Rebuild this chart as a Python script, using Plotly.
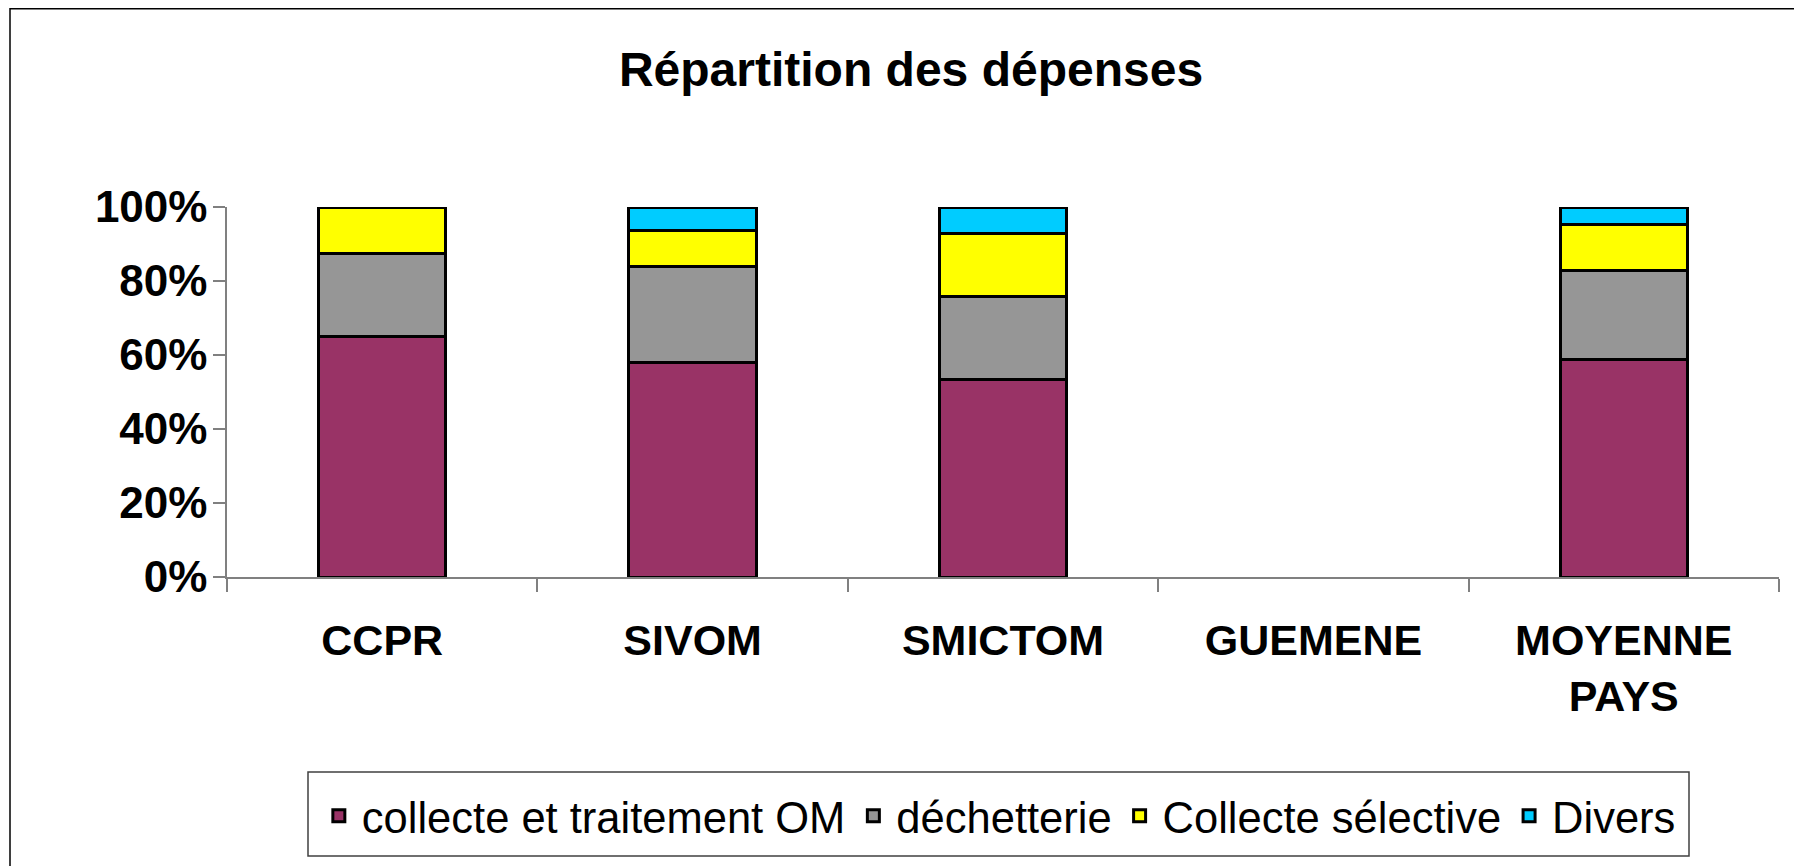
import plotly.graph_objects as go

categories = ["CCPR", "SIVOM", "SMICTOM", "GUEMENE", "MOYENNE<br>PAYS"]

collecte_om = [65.0, 57.9, 53.4, None, 58.8]
dechetterie = [22.4, 25.9, 22.4, None, 24.1]
collecte_selective = [12.6, 9.9, 17.0, None, 12.4]
divers = [None, 6.3, 7.2, None, 4.7]

series = [
    ("collecte et traitement OM", collecte_om, "#993366"),
    ("déchetterie", dechetterie, "#969696"),
    ("Collecte sélective", collecte_selective, "#FFFF00"),
    ("Divers", divers, "#00CCFF"),
]

font_family = "Liberation Sans, Arial, sans-serif"

# page body has an 8px margin, so positions are offset accordingly
fig = go.Figure()
for name, values, color in series:
    fig.add_trace(go.Bar(
        x=categories,
        y=values,
        name=name,
        marker=dict(color=color, line=dict(color="black", width=3)),
    ))

fig.update_layout(
    width=1802,
    height=866,
    barmode="stack",
    bargap=0.59,
    plot_bgcolor="white",
    paper_bgcolor="white",
    margin=dict(l=219, r=31, t=199, b=297),
    font=dict(family=font_family, color="black"),
    title=dict(
        text="<b>Répartition des dépenses</b>",
        font=dict(size=48, family=font_family, color="black"),
        x=903 / 1802, xref="container", xanchor="center",
        y=1 - 61 / 866, yref="container", yanchor="middle",
    ),
    legend=dict(
        orientation="h",
        x=0.497, xanchor="center",
        y=-0.646, yanchor="middle",
        font=dict(size=43.5, family=font_family, color="black"),
        borderwidth=0,
        bgcolor="rgba(0,0,0,0)",
        itemwidth=36,
        traceorder="normal",
    ),
    showlegend=True,
)

fig.update_xaxes(
    type="category",
    showline=True, linecolor="#808080", linewidth=1.5,
    ticks="outside", tickson="boundaries", ticklen=13, tickcolor="#808080", tickwidth=1.5,
    tickfont=dict(size=43, family=font_family, color="black"),
    tickprefix="<b>", ticksuffix="</b>",
    ticklabelstandoff=25,
    showgrid=False, zeroline=False,
)

fig.update_yaxes(
    range=[0, 100],
    tickvals=[0, 20, 40, 60, 80, 100],
    ticktext=["<b>%d%%</b>" % v for v in [0, 20, 40, 60, 80, 100]],
    showline=True, linecolor="#808080", linewidth=1.5,
    ticks="outside", ticklen=12, tickcolor="#808080", tickwidth=1.5,
    tickfont=dict(size=44, family=font_family, color="black"),
    ticklabelstandoff=-3,
    showgrid=False, zeroline=False,
)

# outer chart frame
fig.add_shape(
    type="rect", xref="paper", yref="paper",
    x0=(2 - 219) / 1552, x1=1.2, y0=-1.0, y1=(569 - 0.8) / 370,
    line=dict(color="black", width=1.5), fillcolor="rgba(0,0,0,0)",
    layer="below",
)

# legend frame
fig.add_shape(
    type="rect", xref="paper", yref="paper",
    x0=(300 - 219) / 1552, x1=(1681 - 219) / 1552,
    y0=(569 - 848) / 370, y1=(569 - 764) / 370,
    line=dict(color="#404040", width=1.5), fillcolor="white",
    layer="below",
)

fig.write_html("out.html")
